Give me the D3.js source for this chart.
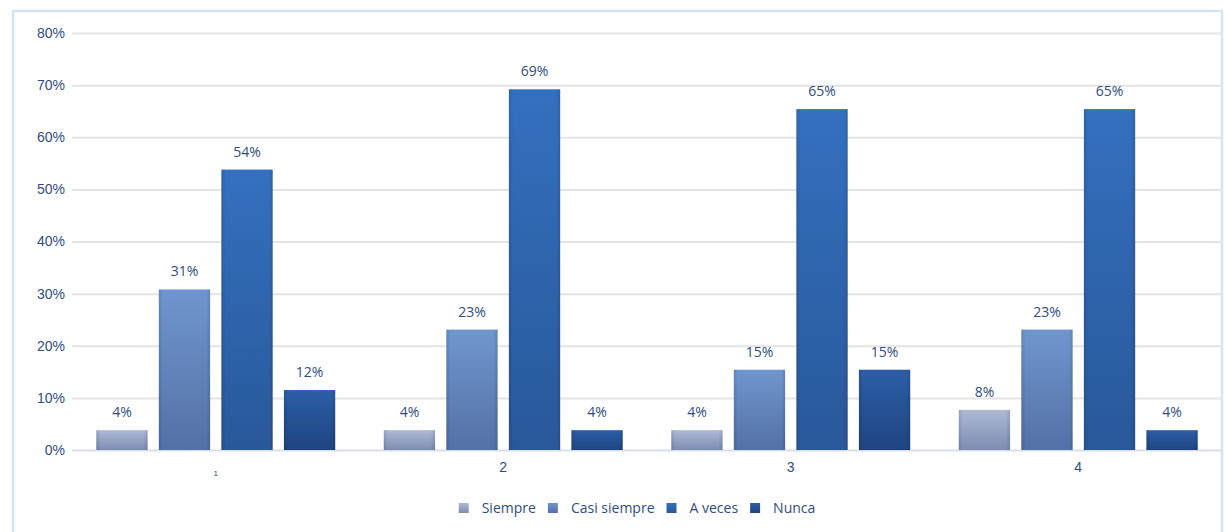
<!DOCTYPE html>
<html>
<head>
<meta charset="utf-8">
<script src="https://cdn.jsdelivr.net/npm/d3@7"></script>
<style>
  html, body { margin: 0; padding: 0; background: #fff; }
  svg { display: block; font-family: "Open Sans", "Noto Sans", sans-serif; }
</style>
</head>
<body>
<svg id="chart" width="1226" height="532"></svg>
<script>
// ---- data ----
const categories = ["1", "2", "3", "4"];
const seriesNames = ["Siempre", "Casi siempre", "A veces", "Nunca"];
const siempre     = [0.038, 0.038, 0.038, 0.077];
const casiSiempre = [0.308, 0.231, 0.154, 0.231];
const aVeces      = [0.538, 0.692, 0.654, 0.654];
const nunca       = [0.115, 0.038, 0.154, 0.038];
const yTicks = [0, 0.1, 0.2, 0.3, 0.4, 0.5, 0.6, 0.7, 0.8];

const seriesValues = [siempre, casiSiempre, aVeces, nunca];
const gradTop    = ["#aeb9d6", "#7096cf", "#3470bf", "#2c5ea8"];
const gradBottom = ["#7d8db0", "#5470a5", "#29589a", "#1f4580"];
const textColor = "#2f4d80";

const svg = d3.select("#chart");
const plot = { left: 72, right: 1222, top: 33, bottom: 450 };

// frame
svg.append("rect")
  .attr("x", 13).attr("y", 11).attr("width", 1209).attr("height", 540)
  .attr("fill", "none").attr("stroke", "#d6e3f4").attr("stroke-width", 2.5);

// gradients
const defs = svg.append("defs");
seriesNames.forEach((s, i) => {
  const g = defs.append("linearGradient").attr("id", "g" + i)
    .attr("x1", 0).attr("y1", 0).attr("x2", 0).attr("y2", 1);
  g.append("stop").attr("offset", "0%").attr("stop-color", gradTop[i]);
  g.append("stop").attr("offset", "100%").attr("stop-color", gradBottom[i]);
  const h = defs.append("linearGradient").attr("id", "h" + i)
    .attr("x1", 0).attr("y1", 0).attr("x2", 1).attr("y2", 0);
  h.append("stop").attr("offset", "0%").attr("stop-color", "#000").attr("stop-opacity", 0.12);
  h.append("stop").attr("offset", "8%").attr("stop-color", "#000").attr("stop-opacity", 0);
  h.append("stop").attr("offset", "92%").attr("stop-color", "#000").attr("stop-opacity", 0);
  h.append("stop").attr("offset", "100%").attr("stop-color", "#000").attr("stop-opacity", 0.12);
});

// scales
const x0 = d3.scaleBand().domain(categories).range([plot.left, plot.right])
  .paddingInner(0.169).paddingOuter(0.0845);
const x1 = d3.scaleBand().domain(seriesNames).range([0, x0.bandwidth()])
  .paddingInner(0.18).paddingOuter(0);
const y = d3.scaleLinear().domain([0, 0.8]).range([plot.bottom, plot.top]);

// gridlines + y labels
const yAxis = d3.axisLeft(y).tickValues(yTicks).tickFormat(d3.format(".0%"))
  .tickSize(-(plot.right - plot.left)).tickPadding(8);
const ga = svg.append("g").attr("transform", `translate(${plot.left},0)`).call(yAxis);
ga.select(".domain").remove();
ga.selectAll(".tick line").attr("stroke", "#e4e4e4").attr("stroke-width", 2)
  .filter(d => d === 0).attr("stroke", "#d9dfe9");
ga.selectAll(".tick text").attr("fill", textColor).attr("font-size", 14)
  .attr("x", -7);

// bars
const groups = svg.append("g").selectAll("g").data(categories).join("g")
  .attr("transform", d => `translate(${x0(d)},0)`);

groups.each(function(cat, ci) {
  const g = d3.select(this);
  seriesNames.forEach((s, si) => {
    const v = seriesValues[si][ci];
    const bx = x1(s), bw = x1.bandwidth();
    g.append("rect").attr("x", bx).attr("y", y(v))
      .attr("width", bw).attr("height", y(0) - y(v))
      .attr("fill", `url(#g${si})`);
    g.append("rect").attr("x", bx).attr("y", y(v))
      .attr("width", bw).attr("height", y(0) - y(v))
      .attr("fill", `url(#h${si})`);
    g.append("text").attr("x", bx + bw / 2).attr("y", y(v) - 13)
      .attr("text-anchor", "middle").attr("fill", textColor)
      .attr("font-size", 14).text(d3.format(".0%")(v));
  });
});

// x axis labels
const xAxis = d3.axisBottom(x0).tickSize(0).tickPadding(14);
const gx = svg.append("g").attr("transform", `translate(0,${plot.bottom})`).call(xAxis);
gx.select(".domain").remove();
gx.selectAll(".tick text").attr("fill", textColor)
  .attr("font-size", d => d === "1" ? 8 : 14)
  .attr("dy", d => d === "1" ? "1.5em" : "0.6em");

// legend
const legend = svg.append("g");
let lx = 0;
seriesNames.forEach((s, i) => {
  const it = legend.append("g").attr("transform", `translate(${lx},0)`);
  it.append("rect").attr("x", 0).attr("y", -5).attr("width", 10).attr("height", 10)
    .attr("fill", `url(#g${i})`);
  const t = it.append("text").attr("x", 23).attr("y", 0).attr("dy", "0.35em")
    .attr("fill", textColor).attr("font-size", 14).text(s);
  const tw = t.node().getComputedTextLength();
  lx += 23 + tw + 12;
});
const totalW = lx - 12;
legend.attr("transform", `translate(${637 - totalW / 2},508)`);
</script>
</body>
</html>
